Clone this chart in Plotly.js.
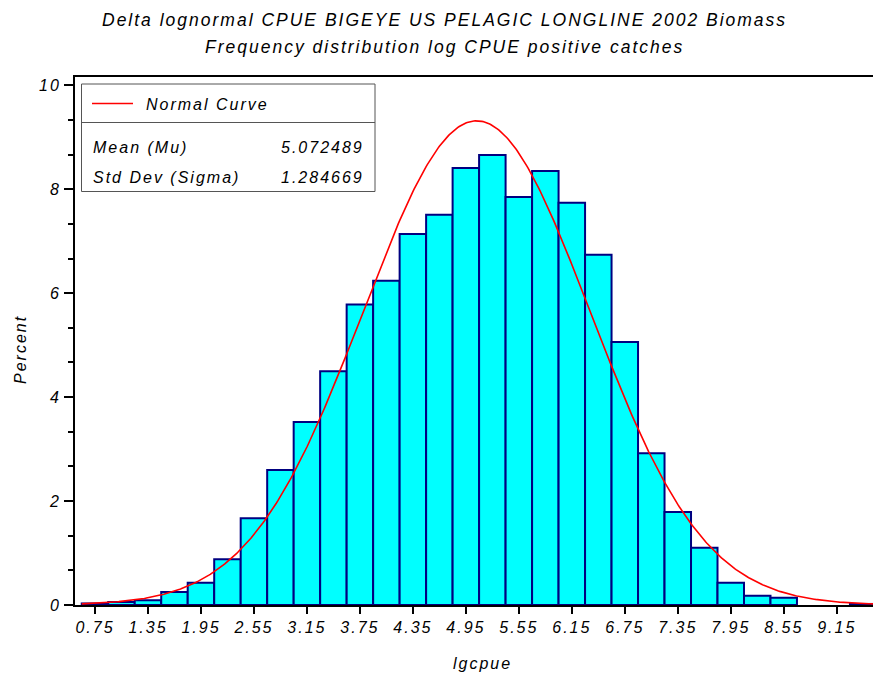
<!DOCTYPE html>
<html>
<head>
<meta charset="utf-8">
<script src="https://cdn.plot.ly/plotly-3.0.1.min.js"></script>
<style>
html,body{margin:0;padding:0;background:#fff;}
#chart{width:873px;height:677px;}
text{letter-spacing:2px;}
</style>
</head>
<body>
<div id="chart"></div>
<script>
// Histogram bin midpoints (lgcpue) and percent of positive catches
const binMid = [0.75, 1.05, 1.35, 1.65, 1.95, 2.25, 2.55, 2.85, 3.15, 3.45,
                3.75, 4.05, 4.35, 4.65, 4.95, 5.25, 5.55, 5.85, 6.15, 6.45,
                6.75, 7.05, 7.35, 7.65, 7.95, 8.25, 8.55, 8.85, 9.15, 9.45];
const percent = [0.03, 0.06, 0.09, 0.25, 0.43, 0.88, 1.67, 2.60, 3.52, 4.50,
                 5.78, 6.24, 7.14, 7.51, 8.41, 8.66, 7.85, 8.35, 7.74, 6.74,
                 5.06, 2.92, 1.79, 1.10, 0.43, 0.18, 0.14, 0.00, 0.00, 0.02];
const binWidth = 0.3;
// Fitted normal parameters (as printed in the legend)
const mu = 5.072489;
const sigma = 1.284669;
const xTicks = [0.75, 1.35, 1.95, 2.55, 3.15, 3.75, 4.35, 4.95, 5.55, 6.15, 6.75, 7.35, 7.95, 8.55, 9.15];
const yTicks = [0, 2, 4, 6, 8, 10];
const titleLines = ["Delta lognormal CPUE BIGEYE US PELAGIC LONGLINE 2002 Biomass",
                    "Frequency distribution log CPUE positive catches"];

// bars (skip empty bins)
const bx = [], by = [];
binMid.forEach((m, i) => { if (percent[i] > 0) { bx.push(m); by.push(percent[i]); } });

// normal curve density scaled to percent per bin
const cx = [], cy = [];
for (let k = 0; k <= 600; k++) {
  const x = 0.6 + k * 0.015;
  cx.push(x);
  cy.push(100 * binWidth * Math.exp(-0.5 * Math.pow((x - mu) / sigma, 2)) / (sigma * Math.sqrt(2 * Math.PI)));
}

const FONT = "Liberation Sans, Arial, sans-serif";
const L = 75, R = 873, T = 77, B = 605;
const px = v => (v - L) / (R - L);
const py = v => (B - v) / (B - T);

const traces = [
  {type: 'bar', x: bx, y: by, width: binWidth,
   marker: {color: '#00FFFF', line: {color: '#000080', width: 2}},
   hoverinfo: 'x+y', showlegend: false},
  {type: 'scatter', mode: 'lines', x: cx, y: cy,
   line: {color: '#FF0000', width: 1.6}, showlegend: false, hoverinfo: 'skip'}
];

const tickFont = {family: FONT, size: 16, color: '#000', style: 'italic'};
const txt = {family: FONT, size: 16, color: '#000', style: 'italic'};
const ttl = {family: FONT, size: 17.5, color: '#000', style: 'italic'};
const layout = {
  width: 873, height: 677,
  margin: {l: L, r: 873 - R, t: T, b: 677 - B},
  paper_bgcolor: '#fff', plot_bgcolor: '#fff',
  bargap: 0,
  xaxis: {
    range: [0.5235, 9.561], tickvals: xTicks, ticktext: xTicks.map(v => v.toFixed(2)),
    ticks: 'outside', ticklen: 7, tickwidth: 2, tickcolor: '#000',
    showline: true, linecolor: '#000', linewidth: 2, mirror: true,
    showgrid: false, zeroline: false, tickfont: tickFont
  },
  yaxis: {
    range: [0, 10.16], tickvals: yTicks, ticktext: yTicks.map(String),
    ticks: 'outside', ticklen: 9, tickwidth: 2, tickcolor: '#000',
    minor: {dtick: 2/3, tick0: 0, ticks: 'outside', ticklen: 5, tickwidth: 2, tickcolor: '#000', showgrid: false},
    showline: true, linecolor: '#000', linewidth: 2,
    showgrid: false, zeroline: false, tickfont: tickFont
  },
  shapes: [
    {type: 'rect', xref: 'paper', yref: 'paper', x0: px(81.5), x1: px(375), y0: py(191.5), y1: py(84),
     line: {color: '#555', width: 1}, fillcolor: '#fff', layer: 'above'},
    {type: 'line', xref: 'paper', yref: 'paper', x0: px(81.5), x1: px(375), y0: py(122.5), y1: py(122.5),
     line: {color: '#555', width: 1}, layer: 'above'},
    {type: 'line', xref: 'paper', yref: 'paper', x0: px(92), x1: px(133), y0: py(103.5), y1: py(103.5),
     line: {color: '#FF0000', width: 1.6}, layer: 'above'}
  ],
  annotations: [
    {text: titleLines[0], xref: 'paper', yref: 'paper', x: px(444), y: py(20), xanchor: 'center', yanchor: 'middle',
     showarrow: false, font: ttl},
    {text: titleLines[1], xref: 'paper', yref: 'paper', x: px(444), y: py(47), xanchor: 'center', yanchor: 'middle',
     showarrow: false, font: ttl},
    {text: 'Normal Curve', xref: 'paper', yref: 'paper', x: px(144), y: py(104), xanchor: 'left', yanchor: 'middle',
     showarrow: false, font: txt},
    {text: 'Mean (Mu)', xref: 'paper', yref: 'paper', x: px(91), y: py(147), xanchor: 'left', yanchor: 'middle',
     showarrow: false, font: txt},
    {text: mu.toFixed(6), xref: 'paper', yref: 'paper', x: px(366), y: py(147), xanchor: 'right', yanchor: 'middle',
     showarrow: false, font: txt},
    {text: 'Std Dev (Sigma)', xref: 'paper', yref: 'paper', x: px(91), y: py(177), xanchor: 'left', yanchor: 'middle',
     showarrow: false, font: txt},
    {text: sigma.toFixed(6), xref: 'paper', yref: 'paper', x: px(366), y: py(177), xanchor: 'right', yanchor: 'middle',
     showarrow: false, font: txt},
    {text: 'Percent', xref: 'paper', yref: 'paper', x: px(20), y: py(350), xanchor: 'center', yanchor: 'middle', textangle: -90,
     showarrow: false, font: txt},
    {text: 'lgcpue', xref: 'paper', yref: 'paper', x: px(482), y: py(663), xanchor: 'center', yanchor: 'middle',
     showarrow: false, font: txt}
  ]
};

Plotly.newPlot('chart', traces, layout, {displayModeBar: false, staticPlot: true});
</script>
</body>
</html>
